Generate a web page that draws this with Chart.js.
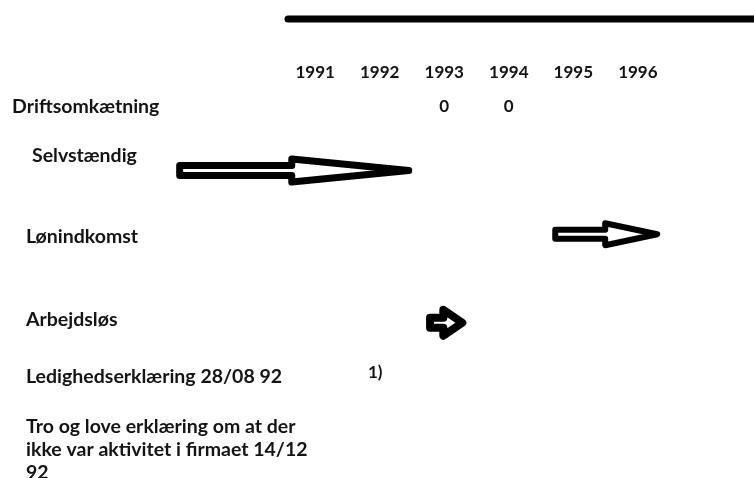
<!DOCTYPE html>
<html>
<head>
<meta charset="utf-8">
<script src="https://cdn.jsdelivr.net/npm/chart.js@4.4.1/dist/chart.umd.min.js"></script>
<style>
  html, body { margin: 0; padding: 0; background: #fff; }
  #wrap { width: 754px; height: 478px; position: relative; }
</style>
</head>
<body>
<div id="wrap"><canvas id="timeline"></canvas></div>
<script>
const years = [1991, 1992, 1993, 1994, 1995, 1996];
const rows = [
  "Driftsomkætning",
  "Selvstændig",
  "Lønindkomst",
  "Arbejdsløs",
  "Ledighedserklæring 28/08 92",
  ["Tro og love erklæring om at der", "ikke var aktivitet i firmaet 14/12", "92"],
];
// periods per row (start year, end year), null = no arrow
const periodStart = [null, 1988.9, 1994.72, 1992.78, null, null];
const periodEnd = [null, 1992.45, 1996.3, 1993.28, null, null];
// Driftsomkætning values
const costYears = [1993, 1994];
const costValues = [0, 0];
// note marker
const noteYears = [1991.93];
const noteTexts = ["1)"];

const font = "Lato, 'Open Sans', sans-serif";
const ink = "#141414";

const arrows = {
  id: "arrows",
  afterDatasetsDraw(chart, args, opts) {
    const ctx = chart.ctx;
    const meta = chart.getDatasetMeta(0);
    meta.data.forEach((el, i) => {
      const s = opts.styles[i];
      if (!s || periodStart[i] == null) return;
      const { x, base, y } = el.getProps(["x", "base", "y"], true);
      const x0 = Math.min(x, base), x1 = Math.max(x, base);
      const cy = y + s.dy;
      const hx = x1 - s.headLen;
      ctx.save();
      ctx.beginPath();
      ctx.moveTo(x0, cy - s.shaft);
      ctx.lineTo(hx, cy - s.shaft);
      ctx.lineTo(hx, cy - s.head);
      ctx.lineTo(x1, cy);
      ctx.lineTo(hx, cy + s.head);
      ctx.lineTo(hx, cy + s.shaft);
      ctx.lineTo(x0, cy + s.shaft);
      ctx.closePath();
      ctx.fillStyle = "#fff";
      ctx.fill();
      ctx.lineJoin = "round";
      ctx.lineWidth = s.lw;
      ctx.strokeStyle = "#000";
      ctx.stroke();
      ctx.restore();
    });
  }
};

const pointTexts = {
  id: "pointTexts",
  afterDatasetsDraw(chart) {
    const ctx = chart.ctx;
    chart.data.datasets.forEach((ds, di) => {
      if (!ds.texts) return;
      chart.getDatasetMeta(di).data.forEach((pt, i) => {
        ctx.save();
        ctx.font = "bold 17px " + font;
        ctx.fillStyle = ink;
        ctx.textAlign = "center";
        ctx.textBaseline = "middle";
        ctx.fillText(ds.texts[i], pt.x, pt.y + (ds.textDy || 0));
        ctx.restore();
      });
    });
  }
};

const rowLabels = {
  id: "rowLabels",
  afterDraw(chart, args, opts) {
    const ctx = chart.ctx;
    const yScale = chart.scales.y;
    ctx.save();
    ctx.font = "bold 19.5px " + font;
    ctx.fillStyle = ink;
    ctx.textAlign = "left";
    ctx.textBaseline = "middle";
    rows.forEach((r, i) => {
      const lines = Array.isArray(r) ? r : [r];
      const cy = yScale.getPixelForValue(i) + opts.dy[i];
      const lh = 23;
      lines.forEach((t, k) => {
        ctx.fillText(t, opts.indent[i], cy + (k - (lines.length - 1) / 2) * lh);
      });
    });
    ctx.restore();
  }
};

const topRule = {
  id: "topRule",
  beforeDraw(chart) {
    const ctx = chart.ctx;
    ctx.save();
    ctx.beginPath();
    ctx.moveTo(288, 19);
    ctx.lineTo(chart.width + 10, 19);
    ctx.lineWidth = 7;
    ctx.lineCap = "round";
    ctx.strokeStyle = "#000";
    ctx.stroke();
    ctx.restore();
  }
};

new Chart(document.getElementById("timeline"), {
  type: "bar",
  data: {
    labels: rows,
    datasets: [
      {
        data: periodStart.map((s, i) => (s == null ? null : [s, periodEnd[i]])),
        backgroundColor: "rgba(0,0,0,0)",
        borderWidth: 0,
        barThickness: 20,
      },
      {
        type: "line",
        data: costYears.map((x) => ({ x: x, y: rows[0] })),
        texts: costValues.map(String),
        showLine: false,
        pointRadius: 0,
      },
      {
        type: "line",
        data: noteYears.map((x) => ({ x: x, y: rows[4] })),
        texts: noteTexts,
        textDy: -9,
        showLine: false,
        pointRadius: 0,
      },
    ],
  },
  options: {
    indexAxis: "y",
    responsive: true,
    maintainAspectRatio: false,
    animation: false,
    layout: { padding: { left: 170, right: 0, top: 0, bottom: 28 } },
    plugins: {
      legend: { display: false },
      tooltip: { enabled: false },
      rowLabels: {
        indent: [12, 32, 26, 26, 26, 26],
        dy: [0, -20, -7, 7, -5, 0],
      },
      arrows: {
        styles: [
          null,
          { dy: -5, shaft: 5, head: 11.5, headLen: 117, lw: 7 },
          { dy: -10, shaft: 4.5, head: 11, headLen: 52, lw: 6 },
          { dy: 10, shaft: 5, head: 13, headLen: 19, lw: 8 },
        ],
      },
    },
    scales: {
      x: {
        type: "linear",
        position: "top",
        min: 1988.75,
        max: 1997.8,
        grid: { display: false, drawTicks: false },
        border: { display: false },
        afterFit: (scale) => { scale.height = 107; },
        afterBuildTicks: (scale) => { scale.ticks = years.map((v) => ({ value: v })); },
        ticks: {
          autoSkip: false,
          maxRotation: 0,
          padding: 24,
          color: ink,
          font: { family: font, weight: "bold", size: 17 },
          callback: (v) => String(v),
        },
      },
      y: {
        type: "category",
        offset: false,
        display: false,
      },
    },
  },
  plugins: [topRule, arrows, pointTexts, rowLabels],
});
</script>
</body>
</html>
